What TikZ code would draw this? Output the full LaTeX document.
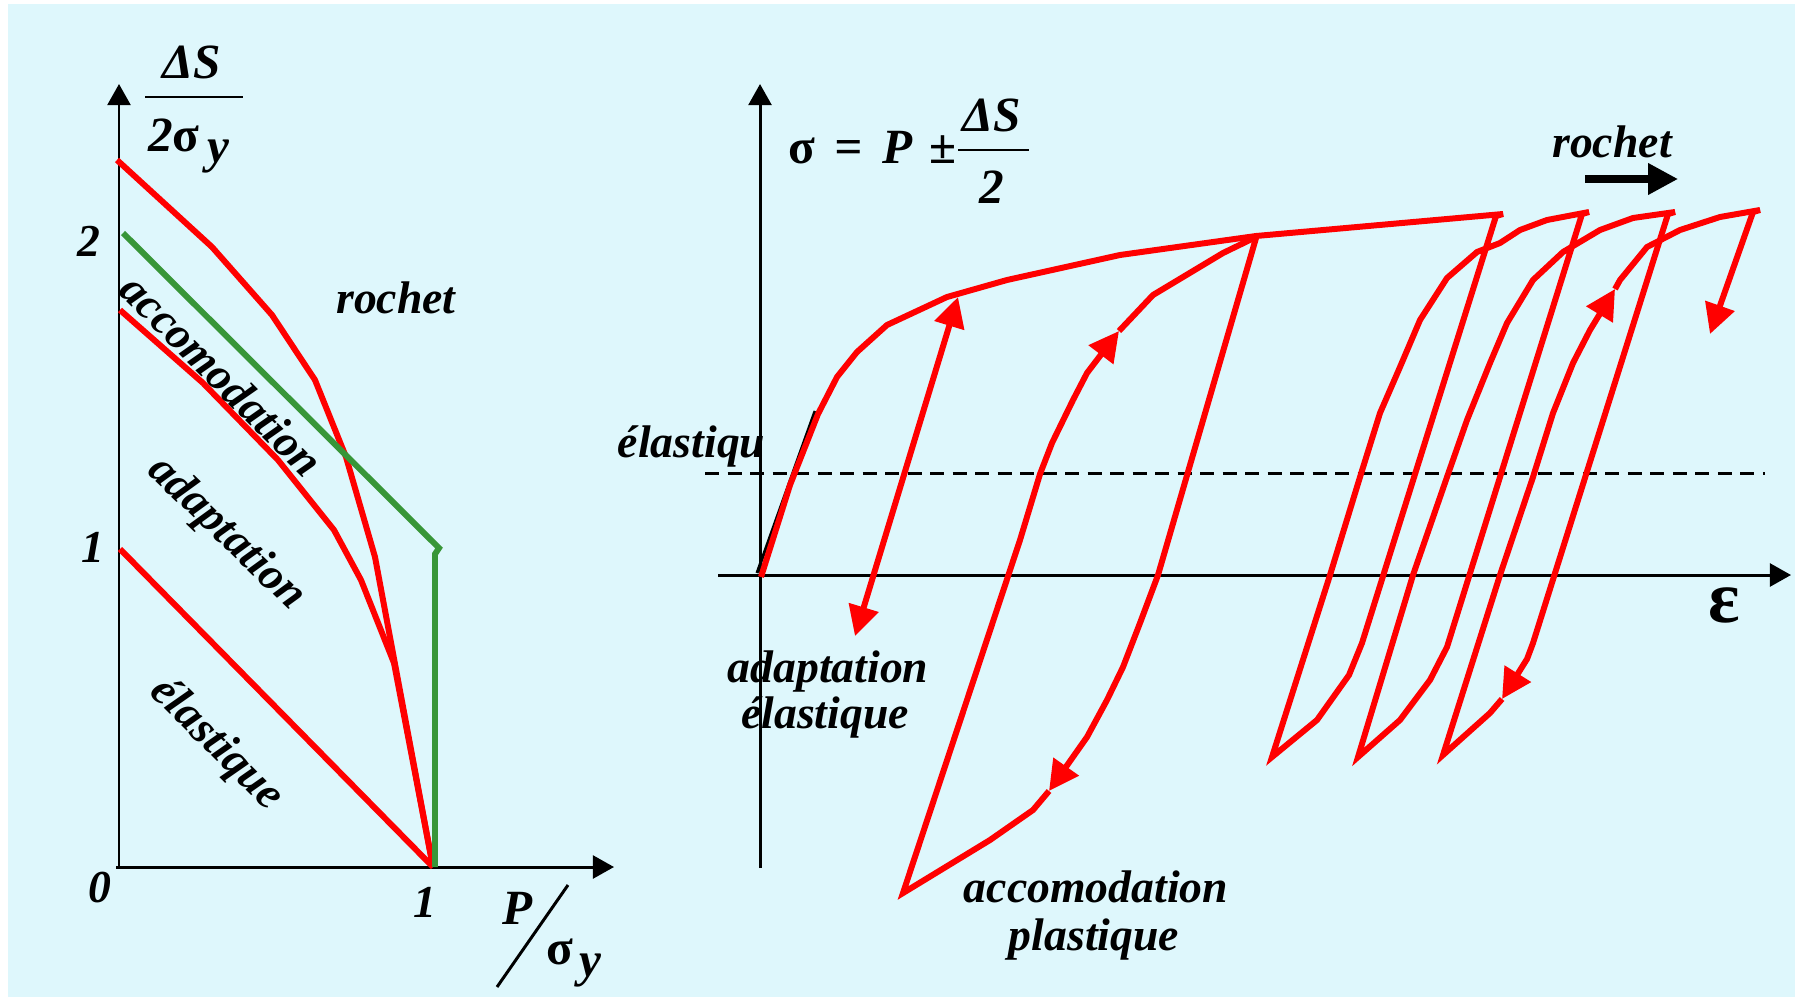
\documentclass[tikz,border=0pt]{standalone}
\usepackage{fontspec}
\setmainfont{Liberation Serif}
\usetikzlibrary{arrows.meta}
\definecolor{bgc}{RGB}{222,247,252}
\definecolor{rd}{RGB}{255,0,0}
\definecolor{grn}{RGB}{56,150,56}
\begin{document}
\begin{tikzpicture}[x=0.01cm,y=-0.01cm,
  lbl/.style={font=\fontsize{13}{13}\selectfont\bfseries\itshape, inner sep=0pt},
  mlbl/.style={font=\fontsize{14}{14}\selectfont\bfseries\itshape, inner sep=0pt},
  axisline/.style={line width=0.85pt, -{Triangle[length=6pt,width=6.5pt]}},
  redline/.style={draw=rd, line width=1.7pt, line join=miter},
  redtip/.style={redline, -{Triangle[length=8.5pt,width=8.5pt]}},
  grnline/.style={draw=grn, line width=1.7pt},
  fracbar/.style={line width=0.85pt}
]
\useasboundingbox (0,0) rectangle (1795,997);
\fill[white] (0,0) rectangle (1795,997);
\fill[bgc] (8,4) rectangle (1795,997);

% ---------------- left chart ----------------
\coordinate (O1) at (119,867);
\coordinate (Y1) at (119,84);
\coordinate (X1) at (614,867);
\coordinate (X1s) at (116,867);
\draw[axisline] (O1) -- (Y1);
\draw[axisline] (X1s) -- (X1);

\draw[redline] (117,160) -- (212,247) -- (272,315) -- (315,380) -- (346,457) -- (375,557) -- (398,680) -- (433,867);
\draw[redline] (120,310) -- (203,383) -- (278,460) -- (334,530) -- (361,580) -- (394,663) -- (433,867);
\draw[redline] (120,549) -- (433,867);
\draw[grnline] (123,233) -- (439,548) -- (435,554) -- (435,867);

\node[lbl] (lt2) at (89,241) {2};
\node[lbl] (lt1) at (93,547) {1};
\node[lbl] (lt0) at (100,888) {0};
\node[lbl] (lx1) at (425,902) {1};

\node[mlbl] (lds) at (192,62) {ΔS};
\draw[fracbar] (145,97) -- (243,97);
\node[mlbl] (l2s) at (174,135) {2\textup{σ}};
\node[mlbl] (l2y) at (218,157) {y};

\node[mlbl] (lP) at (518,908) {P};
\draw[fracbar] (568,885) -- (497,987);
\node[mlbl] (lsig) at (560,952) {\textup{σ}};
\node[mlbl] (lsy) at (590,970) {y};

\node[lbl, anchor=base] (lroch) at (396,313) {rochet};
\node[lbl, rotate=-45] (lacc) at (222,375) {accomodation};
\node[lbl, rotate=-44] (ladp) at (226,534) {adaptation};
\node[lbl, rotate=-45] (lela) at (216,745) {élastique};

% ---------------- right chart ----------------
\coordinate (Y2b) at (760,868);
\coordinate (Y2) at (760,84);
\coordinate (X2a) at (718,575);
\coordinate (X2) at (1791,575);
\draw[axisline] (Y2b) -- (Y2);
\draw[axisline] (X2a) -- (X2);
\draw[line width=0.85pt, dash pattern=on 4pt off 2.4pt] (705,473) -- (1765,473);
\draw[line width=0.85pt] (757,573) -- (815,411);

% adaptation elastique
\draw[redline, {Triangle[length=8.5pt,width=8.5pt]}-{Triangle[length=8.5pt,width=8.5pt]}] (855,636) -- (958,297);

% accomodation loop
\draw[redtip] (1256,238) -- (1158,575) -- (1140,623) -- (1123,667) -- (1107,700) -- (1087,737) -- (1049,791);
\draw[redtip] (1049,791) -- (1033,810) -- (990,840) -- (903,893) -- (1020,540) -- (1040,474) -- (1052,443) -- (1073,400) -- (1087,373) -- (1119,331);
\draw[redline] (1119,331) -- (1153,295) -- (1223,253) -- (1256,237);

% initial loading + rochet cycles
\draw[redtip] (761,577) -- (790,485) -- (818,414) -- (837,377) -- (857,352) -- (887,325) -- (947,297) -- (1007,280) -- (1120,255) -- (1256,236) -- (1503,214) -- (1496,216)
  -- (1362,643) -- (1349,675) -- (1317,720) -- (1272,757)
  -- (1330,575) -- (1360,477) -- (1380,413) -- (1400,367) -- (1420,320) -- (1447,278) -- (1477,252) -- (1500,243) -- (1520,230) -- (1547,220) -- (1589,212) -- (1582,214)
  -- (1447,647) -- (1430,680) -- (1400,720) -- (1358,757)
  -- (1413,575) -- (1447,477) -- (1467,420) -- (1490,363) -- (1507,323) -- (1533,280) -- (1563,252) -- (1600,230) -- (1633,218) -- (1675,212) -- (1668,214)
  -- (1533,643) -- (1527,659) -- (1502,699);
\draw[redtip] (1502,699) -- (1490,713) -- (1443,755)
  -- (1500,575) -- (1533,477) -- (1553,413) -- (1573,363) -- (1590,330) -- (1615,289);
\draw[redline] (1615,289) -- (1620,280) -- (1647,247) -- (1680,230) -- (1720,217) -- (1760,210) -- (1753,212);
\draw[redtip] (1753,212) -- (1710,334);

% labels right
\node[mlbl, anchor=base west] (rsig) at (788,163) {\textup{σ}\hspace{5.5pt}=\hspace{5.5pt}P\hspace{5pt}±};
\node[mlbl, anchor=base] (rds) at (992,132) {ΔS};
\draw[fracbar] (958,150) -- (1029,150);
\node[mlbl, anchor=base] (r2) at (992,203) {2};

\node[lbl, anchor=base] (rroch) at (1612,158) {rochet};
\coordinate (ra1) at (1585,179);
\coordinate (ra2) at (1678,179);
\draw[line width=2pt, -{Triangle[length=8.5pt,width=8.5pt]}] (ra1) -- (ra2);

\node[lbl, anchor=base east] (rela) at (766,457) {élastiqu};
\node[lbl, anchor=base] (radp1) at (828,682) {adaptation};
\node[lbl, anchor=base] (radp2) at (825,728) {élastique};
\node[lbl, anchor=base] (racc1) at (1096,902) {accomodation};
\node[lbl, anchor=base] (racc2) at (1094,950) {plastique};
\node[font=\fontsize{21}{21}\selectfont\bfseries, inner sep=0pt] (reps) at (1724,605) {ε};
\end{tikzpicture}
\end{document}
